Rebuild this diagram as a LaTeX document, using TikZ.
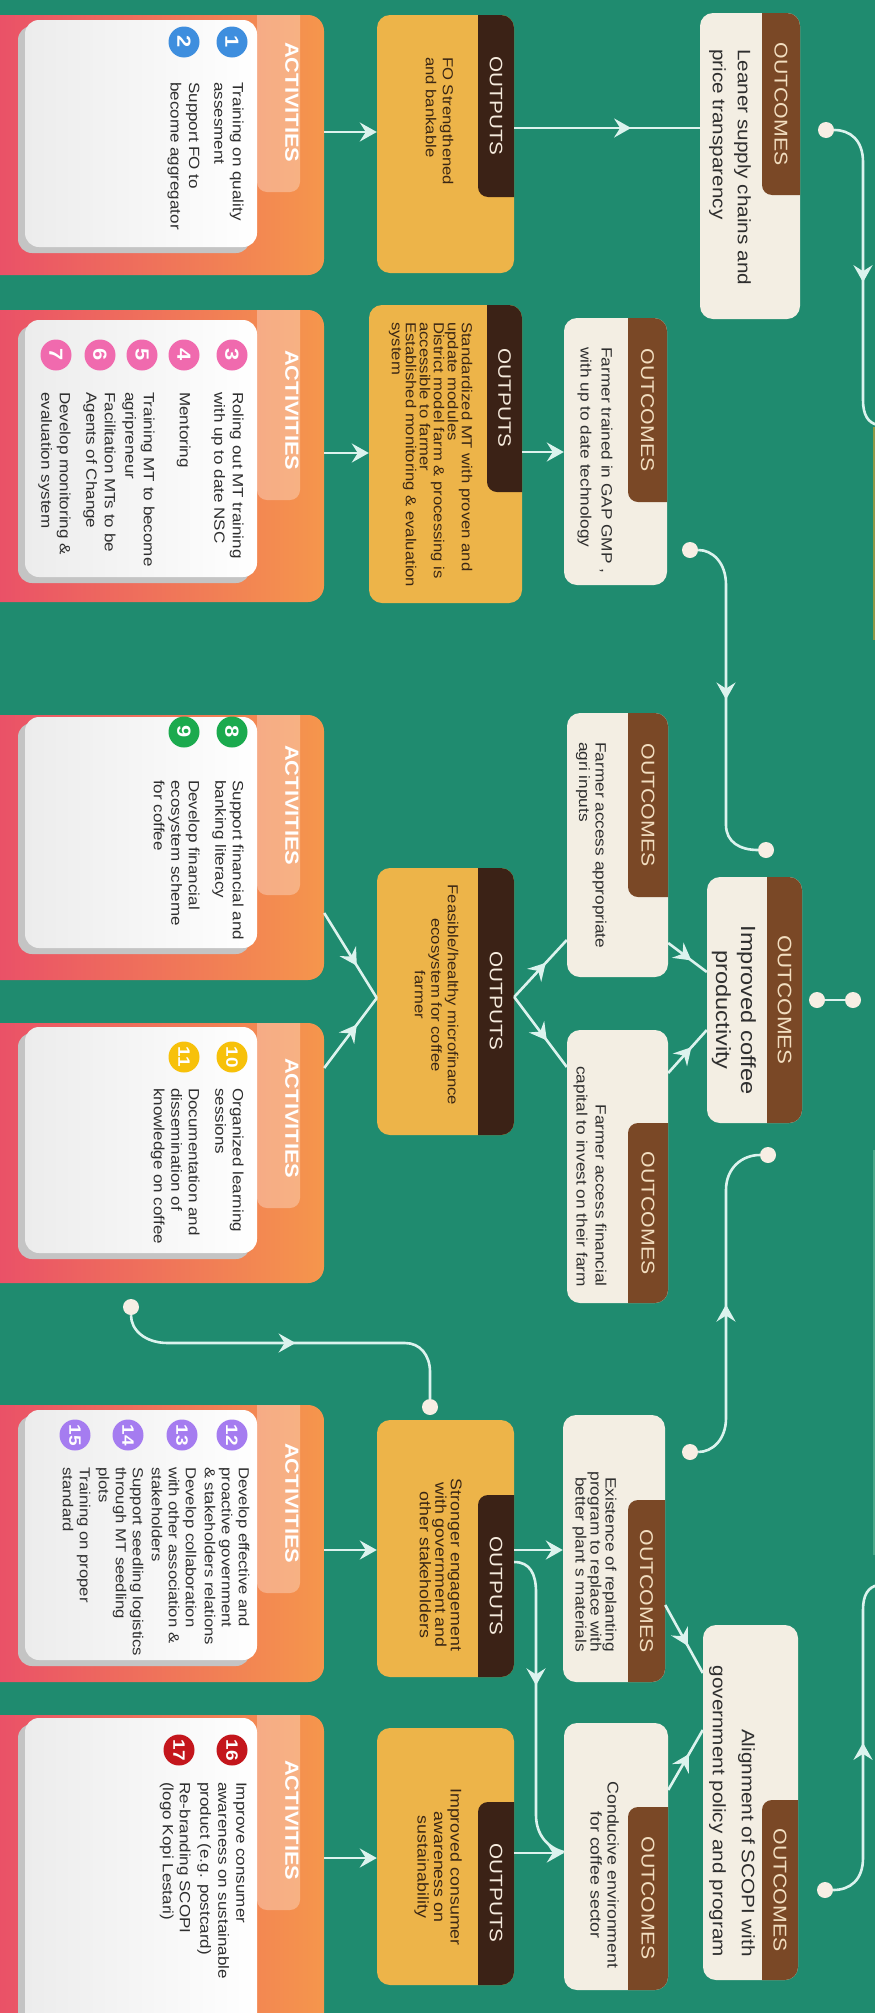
\documentclass[tikz,border=0pt]{standalone}
\usepackage{fontspec}
\setmainfont{Liberation Sans}[FakeStretch=1.15]
\usetikzlibrary{arrows.meta,decorations.markings,calc}

\definecolor{bgc}{HTML}{1F8B6F}
\definecolor{linec}{HTML}{DCF3EE}
\definecolor{dotc}{HTML}{F7EEE4}
\definecolor{outy}{HTML}{EDB449}
\definecolor{outtab}{HTML}{3B2216}
\definecolor{occ}{HTML}{F3EEE3}
\definecolor{octab}{HTML}{7A4826}
\definecolor{oclbl}{HTML}{F2DEC0}
\definecolor{outlbl}{HTML}{F6EBDD}
\definecolor{txt}{HTML}{2E2E2E}
\definecolor{outtxt}{HTML}{3A2614}
\definecolor{actL}{HTML}{E94B6A}
\definecolor{actM}{HTML}{F4A2A0}
\definecolor{actR}{HTML}{F5964C}
\definecolor{cardL}{HTML}{ECECEC}
\definecolor{shadowc}{HTML}{C4C4C4}
\definecolor{nblue}{HTML}{3E8EDE}
\definecolor{npink}{HTML}{F06AAE}
\definecolor{ngreen}{HTML}{1BAA4E}
\definecolor{nyellow}{HTML}{F7C10A}
\definecolor{npurple}{HTML}{A57CF0}
\definecolor{nred}{HTML}{C4161C}
\definecolor{stripA}{HTML}{8C9A45}
\definecolor{stripB}{HTML}{49A88A}

\tikzset{
 actouter/.style={rounded corners=16pt, left color=actL, middle color=actM, right color=actR},
 cardshadow/.style={rounded corners=14pt, fill=shadowc},
 card/.style={rounded corners=14pt, left color=cardL, right color=white},
 outbox/.style={rounded corners=13pt, fill=outy},
 ocbox/.style={rounded corners=13pt, fill=occ},
 outtabf/.style={fill=outtab},
 octabf/.style={fill=octab},
 rt/.style={rotate=-90, inner sep=0pt},
 actlbl/.style={rt, text=white, font=\bfseries\fontsize{19}{19}\selectfont},
 outlblst/.style={rt, text=outlbl, font=\fontsize{18}{18}\selectfont},
 oclblst/.style={rt, text=oclbl, font=\fontsize{18.5}{18.5}\selectfont},
 numc/.style={circle, rotate=-90, inner sep=0pt, minimum size=31pt, text=white, font=\bfseries\fontsize{19}{19}\selectfont},
 numcc/.style={numc, font=\bfseries\fontsize{16.5}{16.5}\selectfont},
 itemt/.style={rt, anchor=north west, align=left, text=txt, font=\fontsize{14.8}{18.5}\selectfont},
 outt/.style={rt, text=outtxt},
 oct/.style={rt, text=txt},
 conn/.style={color=linec, draw, line width=2.6pt},
 endarr/.style={-{Stealth[length=17pt,width=19pt,inset=6pt]}},
 midarr/.style={postaction={decorate}, decoration={markings, mark=at position #1 with {\arrow{Stealth[length=17pt,width=19pt,inset=6pt]}}}},
 dotn/.style={circle, fill=dotc, minimum size=16pt, inner sep=0pt},
}

\newcommand{\RBox}[6]{\node[#1, inner sep=0pt, minimum width={(#5)-(#3)}, minimum height={(#6)-(#4)}] (#2) at ({((#3)+(#5))/2},{((#4)+(#6))/2}) {};}
\newcommand{\Tabbed}[9]{%
 \RBox{#1}{#2}{#3}{#4}{#5}{#6}
 \begin{scope}
 \clip[rounded corners=13pt] (#3,#4) rectangle (#5,#6);
 \fill[#7, rounded corners=10pt] ({(#5)-\tabw},#8) rectangle ({(#5)+20},#9);
 \end{scope}}
\newcommand{\Act}[6]{%
 \RBox{actouter}{#1}{-30}{#2}{324}{#3}
 \begin{scope}
 \clip[rounded corners=16pt] (-30,#2) rectangle (324,#3);
 \fill[white, opacity=0.3, rounded corners=10pt] (257,{(#2)-20}) rectangle (300,{(#6)+150});
 \end{scope}
 \RBox{cardshadow}{#1s}{18}{(#4)+6}{250}{(#5)+6}
 \RBox{card}{#1c}{25}{#4}{257}{#5}
 \node[actlbl, anchor=west] (#1l) at (292,#6) {ACTIVITIES};}

\begin{document}
\begin{tikzpicture}[x=1pt,y=-1pt]
\useasboundingbox (0,0) rectangle (875,2013);
\clip (0,0) rectangle (875,2013);
\fill[bgc] (0,0) rectangle (875,2013);
\fill[stripA] (872.5,427) rectangle (875,640);
\fill[stripB] (872.5,1150) rectangle (875,1555);

% ---------------- Activities
\Act{act1}{15}{275}{20}{247}{42}
\Act{act2}{310}{602}{320}{577}{350}
\Act{act3}{715}{980}{717}{948}{745}
\Act{act4}{1023}{1283}{1027}{1253}{1058}
\Act{act5}{1405}{1682}{1410}{1660}{1443}
\Act{act6}{1715}{2060}{1718}{2045}{1760}

\node[numc, fill=nblue] (n1) at (232,42) {1};
\node[numc, fill=nblue] (n2) at (184,42) {2};
\node[itemt] (i1) at (243.7,82) {Training on quality\\assesment};
\node[itemt] (i2) at (199.7,82) {Support FO to\\become aggregator};

\node[numc, fill=npink] (n3) at (232,355) {3};
\node[numc, fill=npink] (n4) at (184,355) {4};
\node[numc, fill=npink] (n5) at (142,355) {5};
\node[numc, fill=npink] (n6) at (100,355) {6};
\node[numc, fill=npink] (n7) at (56,355) {7};
\node[itemt] (i3) at (243.7,392) {Roling out MT training\\with up to date NSC};
\node[itemt] (i4) at (190.7,392) {Mentoring};
\node[itemt] (i5) at (154.7,392) {Training MT to become\\agripreneur};
\node[itemt] (i6) at (115.7,392) {Facilitation MTs to be\\Agents of Change};
\node[itemt] (i7) at (70.7,392) {Develop monitoring \&\\evaluation system};

\node[numc, fill=ngreen] (n8) at (232,732) {8};
\node[numc, fill=ngreen] (n9) at (184,732) {9};
\node[itemt, font=\fontsize{14.8}{17.5}\selectfont] (i8) at (243.7,780) {Support financial and\\banking literacy};
\node[itemt, font=\fontsize{14.8}{17.5}\selectfont] (i9) at (199.7,780) {Develop financial\\ecosystem scheme\\for coffee};

\node[numcc, fill=nyellow] (n10) at (232,1057) {10};
\node[numcc, fill=nyellow] (n11) at (184,1057) {11};
\node[itemt, font=\fontsize{14.8}{17.5}\selectfont] (i10) at (243.7,1088) {Organized learning\\sessions};
\node[itemt, font=\fontsize{14.8}{17.5}\selectfont] (i11) at (199.7,1088) {Documentation and\\dissemination of\\knowledge on coffee};

\node[numcc, fill=npurple] (n12) at (232,1435) {12};
\node[numcc, fill=npurple] (n13) at (182,1435) {13};
\node[numcc, fill=npurple] (n14) at (128,1435) {14};
\node[numcc, fill=npurple] (n15) at (75,1435) {15};
\node[itemt, font=\fontsize{14.5}{17}\selectfont] (i12) at (249.5,1467) {Develop effective and\\proactive government\\\& stakeholders relations};
\node[itemt, font=\fontsize{14.5}{17}\selectfont] (i13) at (196.5,1467) {Develop collaboration\\with other association \&\\stakeholders};
\node[itemt, font=\fontsize{14.5}{17}\selectfont] (i14) at (143.5,1467) {Support seedling logistics\\through MT seedling\\plots};
\node[itemt, font=\fontsize{14.5}{17}\selectfont] (i15) at (90.5,1467) {Training on proper\\standard};

\node[numcc, fill=nred] (n16) at (232,1750) {16};
\node[numcc, fill=nred] (n17) at (179,1750) {17};
\node[itemt, font=\fontsize{14.8}{18}\selectfont] (i16) at (246.7,1782) {Improve consumer\\awareness on sustainable\\product (e.g. postcard)};
\node[itemt, font=\fontsize{14.8}{17}\selectfont] (i17) at (190.7,1782) {Re-branding SCOPI\\(logo Kopi Lestari)};

% ---------------- Outputs
\def\tabw{36}
\Tabbed{outbox}{out1}{377}{15}{514}{273}{outtabf}{-5}{197}
\node[outlblst] (out1l) at (496,106) {OUTPUTS};
\node[outt, anchor=north west, align=left, font=\fontsize{14.5}{17}\selectfont] (out1t) at (453.5,57) {FO Strengthened\\and bankable};

\def\tabw{35}
\Tabbed{outbox}{out2}{369}{305}{522}{603}{outtabf}{285}{492}
\node[outlblst] (out2l) at (504.5,398) {OUTPUTS};
\node[outt, anchor=north west, align=left, font=\fontsize{14.5}{14}\selectfont] (out2t) at (472.5,322) {Standardized MT with proven and\\update modules\\District model farm \& processing is\\accessible to farmer\\Established monitoring \& evaluation\\system};

\def\tabw{36}
\Tabbed{outbox}{out3}{377}{868}{514}{1135}{outtabf}{848}{1155}
\node[outlblst] (out3l) at (496,1001) {OUTPUTS};
\node[outt, anchor=north, align=center, font=\fontsize{14.5}{16.5}\selectfont] (out3t) at (458.5,995) {Feasible/healthy microfinance\\ecosystem for coffee\\farmer};

\Tabbed{outbox}{out4}{377}{1420}{514}{1677}{outtabf}{1495}{1697}
\node[outlblst] (out4l) at (496,1586) {OUTPUTS};
\node[outt, anchor=north, align=center, font=\fontsize{15.5}{15.5}\selectfont] (out4t) at (462,1565) {Stronger engagement\\with government and\\other stakeholders};

\Tabbed{outbox}{out5}{377}{1728}{514}{1985}{outtabf}{1802}{2005}
\node[outlblst] (out5l) at (496,1893) {OUTPUTS};
\node[outt, anchor=north, align=center, font=\fontsize{15.5}{16.5}\selectfont] (out5t) at (462,1867) {Improved consumer\\awareness on\\sustainability};

% ---------------- Outcomes
\def\tabw{38}
\Tabbed{ocbox}{oc1}{700}{13}{800}{319}{octabf}{-7}{195}
\node[oclblst] (oc1l) at (781,104) {OUTCOMES};
\node[oct, anchor=north west, align=left, font=\fontsize{18}{25}\selectfont] (oc1t) at (751,49) {Leaner supply chains and\\price transparency};

\def\tabw{39}
\Tabbed{ocbox}{oc2}{564}{318}{667}{585}{octabf}{298}{502}
\node[oclblst] (oc2l) at (647.5,410) {OUTCOMES};
\node[oct, anchor=north west, align=left, font=\fontsize{15}{21}\selectfont] (oc2t) at (612.8,347) {Farmer trained in GAP GMP ,\\with up to date technology};

\def\tabw{40}
\Tabbed{ocbox}{oc3}{567}{713}{668}{977}{octabf}{693}{897}
\node[oclblst] (oc3l) at (648,805) {OUTCOMES};
\node[oct, anchor=north west, align=left, font=\fontsize{15}{16.5}\selectfont] (oc3t) at (606.8,742) {Farmer access appropriate\\agri inputs};

\def\tabw{35}
\Tabbed{ocbox}{oc4}{707}{877}{802}{1123}{octabf}{857}{1143}
\node[oclblst, font=\fontsize{19.5}{19.5}\selectfont] (oc4l) at (784.5,1000) {OUTCOMES};
\node[oct, anchor=north, align=center, font=\fontsize{20.5}{25}\selectfont] (oc4t) at (756.2,1010) {Improved coffee\\productivity};

\def\tabw{40}
\Tabbed{ocbox}{oc5}{567}{1030}{668}{1303}{octabf}{1123}{1323}
\node[oclblst] (oc5l) at (648,1213) {OUTCOMES};
\node[oct, anchor=north east, align=right, font=\fontsize{15}{19}\selectfont] (oc5t) at (606.8,1287) {Farmer access financial\\capital to invest on their farm};

\def\tabw{37}
\Tabbed{ocbox}{oc6}{563}{1415}{665}{1682}{octabf}{1500}{1702}
\node[oclblst] (oc6l) at (646.5,1591) {OUTCOMES};
\node[oct, anchor=north east, align=right, font=\fontsize{15}{15}\selectfont] (oc6t) at (616.8,1652) {Existence of replanting\\program to replace with\\better plant s materials};

\def\tabw{40}
\Tabbed{ocbox}{oc7}{564}{1723}{668}{1990}{octabf}{1807}{2010}
\node[oclblst] (oc7l) at (648,1898) {OUTCOMES};
\node[oct, anchor=north, align=center, font=\fontsize{15.5}{17}\selectfont] (oc7t) at (619,1875) {Conducive environment\\for coffee sector};

\def\tabw{36}
\Tabbed{ocbox}{oc8}{703}{1625}{798}{1980}{octabf}{1800}{2000}
\node[oclblst] (oc8l) at (780,1890) {OUTCOMES};
\node[oct, anchor=north east, align=right, font=\fontsize{18}{29}\selectfont] (oc8t) at (755.1,1957) {Alignment of SCOPI with\\government policy and program};

% ---------------- Dots
\node[dotn] (d1) at (826,130) {};
\node[dotn] (d2) at (690,550) {};
\node[dotn] (d3) at (766,850) {};
\node[dotn] (db1) at (817,1000) {};
\node[dotn] (db2) at (853,1000) {};
\node[dotn] (d4) at (768,1155) {};
\node[dotn] (d5) at (690,1452) {};
\node[dotn] (d6) at (825,1890) {};
\node[dotn] (d7) at (131,1307) {};
\node[dotn] (d8) at (430,1407) {};
\coordinate (e1) at (878,425);
\coordinate (e2) at (878,1585);

% ---------------- Connectors
\draw[conn, endarr] (act1.east |- 0,132) -- (out1.west |- 0,132);
\draw[conn, midarr=0.63] (out1.east |- 0,128) -- (oc1.west |- 0,128);
\draw[conn, endarr] (act2.east |- 0,453) -- (out2.west |- 0,453);
\draw[conn, endarr] (out2.east |- 0,452) -- (oc2.west |- 0,452);
\draw[conn, midarr=0.62] (act3.east |- 0,913) -- (out3.west |- 0,998);
\draw[conn, midarr=0.62] (act4.east |- 0,1068) -- (out3.west |- 0,998);
\draw[conn, midarr=0.6] (out3.east |- 0,997) -- (oc3.west |- 0,940);
\draw[conn, midarr=0.62] (out3.east |- 0,997) -- (oc5.west |- 0,1067);
\draw[conn, midarr=0.6] (oc3.east |- 0,943) -- (oc4.west |- 0,972);
\draw[conn, midarr=0.6] (oc5.east |- 0,1073) -- (oc4.west |- 0,1030);
\draw[conn, endarr] (act5.east |- 0,1550) -- (out4.west |- 0,1550);
\draw[conn, endarr] (out4.east |- 0,1550) -- (oc6.west |- 0,1550);
\draw[conn, midarr=0.43] (out4.east |- 0,1562) .. controls (530,1562) and (536,1574) .. (536,1592) -- (536,1815) .. controls (536,1835) and (548,1848) .. (oc7.west |- 0,1852);
\draw[conn, endarr] (act6.east |- 0,1858) -- (out5.west |- 0,1858);
\draw[conn, endarr] (out5.east |- 0,1853) -- (oc7.west |- 0,1853);
\draw[conn, midarr=0.6] (oc6.east |- 0,1605) -- (oc8.west |- 0,1673);
\draw[conn, midarr=0.6] (oc7.east |- 0,1790) -- (oc8.west |- 0,1730);

\draw[conn, midarr=0.53] (d1) .. controls (850,130) and (863,140) .. (863,162) -- (863,400) .. controls (863,415) and (868,423) .. (e1);
\draw[conn, midarr=0.49] (d2) .. controls (712,550) and (726,562) .. (726,585) -- (726,825) .. controls (726,842) and (740,850) .. (d3);
\draw[conn] (db1) -- (db2);
\draw[conn, midarr=0.49] (d5) .. controls (712,1452) and (726,1440) .. (726,1418) -- (726,1190) .. controls (726,1168) and (742,1155) .. (d4);
\draw[conn, midarr=0.5] (d6) .. controls (850,1890) and (863,1880) .. (863,1858) -- (863,1610) .. controls (863,1595) and (868,1587) .. (e2);
\draw[conn, midarr=0.5] (d7) .. controls (131,1330) and (145,1343) .. (168,1343) -- (405,1343) .. controls (420,1343) and (430,1355) .. (430,1372) -- (d8);
\end{tikzpicture}
\end{document}
